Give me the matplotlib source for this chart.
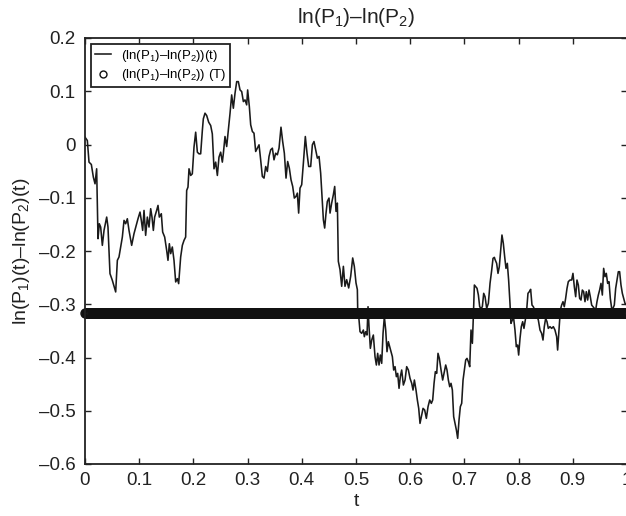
import matplotlib
matplotlib.use("Agg")
import matplotlib.pyplot as plt
import numpy as np

plt.rcParams['font.family'] = ['Liberation Sans', 'DejaVu Sans']
plt.rcParams['mathtext.fontset'] = 'custom'
plt.rcParams['mathtext.rm'] = 'Liberation Sans'
plt.rcParams['mathtext.default'] = 'regular'

# path of ln(P1)-ln(P2), in four stretches
t_a = [0.0, 0.0043, 0.0074, 0.0117, 0.0154, 0.0185, 0.0215, 0.0240, 0.0264, 0.0289,
       0.0320, 0.0351, 0.0400, 0.0424, 0.0461, 0.0504, 0.0566, 0.0597, 0.0627, 0.0658,
       0.0689, 0.0720, 0.0750, 0.0781, 0.0812, 0.0861, 0.0904, 0.0953, 0.0978, 0.1015,
       0.1039, 0.1064, 0.1089, 0.1119, 0.1150, 0.1181, 0.1212, 0.1236, 0.1261, 0.1285,
       0.1322, 0.1347, 0.1371, 0.1408, 0.1433, 0.1470, 0.1507, 0.1531, 0.1556, 0.1581,
       0.1611, 0.1642, 0.1673, 0.1704, 0.1728, 0.1765, 0.1796, 0.1827, 0.1857, 0.1876,
       0.1900, 0.1919, 0.1950, 0.1980, 0.2011, 0.2042, 0.2073, 0.2103, 0.2134, 0.2165,
       0.2183, 0.2214, 0.2245, 0.2282, 0.2319, 0.2349, 0.2380, 0.2411, 0.2442, 0.2472,
       0.2503, 0.2534, 0.2552]
v_a = [0.0138, 0.0075, -0.0331, -0.0375, -0.0613, -0.0738, -0.0456, -0.1769, -0.1488, -0.155,
       -0.1894, -0.1613, -0.1363, -0.155, -0.2425, -0.255, -0.2769, -0.2175, -0.2113, -0.1925,
       -0.1738, -0.1425, -0.1488, -0.1394, -0.1613, -0.1894, -0.1675, -0.1488, -0.1394, -0.1269,
       -0.1425, -0.1613, -0.1238, -0.1706, -0.1363, -0.155, -0.1206, -0.1363, -0.1613, -0.1363,
       -0.1238, -0.1144, -0.1363, -0.13, -0.1644, -0.1738, -0.1988, -0.2175, -0.1863, -0.205,
       -0.1925, -0.2175, -0.2581, -0.2519, -0.2613, -0.2113, -0.1894, -0.18, -0.1738, -0.0863,
       -0.08, -0.0456, -0.0581, -0.055, -0.005, 0.0231, -0.0144, -0.0175, -0.0175, 0.0263,
       0.0481, 0.0588, 0.0544, 0.0419, 0.0356, 0.02, -0.0456, -0.0331, -0.0581, -0.0238,
       -0.0144, -0.0331, -0.0175]

t_b = [0.2583, 0.2614, 0.2645, 0.2676, 0.2706, 0.2737, 0.2768, 0.2799, 0.2829, 0.2860,
       0.2891, 0.2922, 0.2952, 0.2983, 0.3001, 0.3032, 0.3057, 0.3088, 0.3118, 0.3149,
       0.3180, 0.3211, 0.3241, 0.3272, 0.3303, 0.3334, 0.3364, 0.3395, 0.3426, 0.3457,
       0.3487, 0.3518, 0.3549, 0.3580, 0.3616, 0.3647, 0.3678, 0.3709, 0.3739, 0.3770,
       0.3801, 0.3832, 0.3862, 0.3893, 0.3918, 0.3942, 0.3967, 0.3998, 0.4029, 0.4065,
       0.4096, 0.4127, 0.4164, 0.4195, 0.4225, 0.4256, 0.4287, 0.4318, 0.4348, 0.4373,
       0.4398, 0.4422, 0.4447, 0.4471, 0.4502, 0.4521, 0.4551, 0.4582, 0.4607, 0.4631,
       0.4656, 0.4674, 0.4705, 0.4736, 0.4767, 0.4797, 0.4828, 0.4865, 0.4902, 0.4939,
       0.4969, 0.5000, 0.5025]
v_b = [0.015, -0.0038, 0.0275, 0.0588, 0.0931, 0.0681, 0.0963, 0.1181, 0.1181, 0.1025,
       0.0994, 0.0806, 0.0838, 0.0744, 0.1025, 0.0713, 0.0369, 0.0244, 0.0213, -0.0131,
       -0.0069, -0.0006, -0.0288, -0.06, -0.0631, -0.0413, -0.0506, -0.0225, -0.01, -0.0069,
       -0.0288, -0.0163, -0.0194, -0.0069, 0.0325, 0.0056, -0.0163, -0.0631, -0.0319, -0.0444,
       -0.0663, -0.0788, -0.1006, -0.0975, -0.0913, -0.1288, -0.0819, -0.0756, -0.035, 0.015,
       -0.0163, -0.0413, -0.0413, -0.0006, 0.0056, -0.01, -0.0256, -0.0225, -0.0538, -0.0975,
       -0.1413, -0.1569, -0.1288, -0.1069, -0.1006, -0.1288, -0.11, -0.0944, -0.0788, -0.1256,
       -0.11, -0.2194, -0.235, -0.2663, -0.2288, -0.2663, -0.2538, -0.2694, -0.2475, -0.2131,
       -0.2288, -0.26, -0.2725]

t_c = [0.5031, 0.5056, 0.5074, 0.5105, 0.5136, 0.5154, 0.5179, 0.5203, 0.5222, 0.5240,
       0.5265, 0.5290, 0.5320, 0.5351, 0.5376, 0.5400, 0.5425, 0.5449, 0.5474, 0.5499,
       0.5523, 0.5548, 0.5572, 0.5597, 0.5622, 0.5646, 0.5671, 0.5695, 0.5720, 0.5745,
       0.5769, 0.5794, 0.5818, 0.5843, 0.5874, 0.5905, 0.5935, 0.5966, 0.5997, 0.6028,
       0.6052, 0.6077, 0.6107, 0.6132, 0.6157, 0.6181, 0.6206, 0.6237, 0.6267, 0.6298,
       0.6329, 0.6360, 0.6390, 0.6415, 0.6440, 0.6464, 0.6489, 0.6513, 0.6538, 0.6569,
       0.6599, 0.6630, 0.6655, 0.6679, 0.6704, 0.6729, 0.6753, 0.6778, 0.6802, 0.6827,
       0.6852, 0.6876, 0.6901, 0.6925, 0.6950, 0.6975, 0.6999, 0.7024, 0.7048, 0.7073,
       0.7098, 0.7122, 0.7147, 0.7165, 0.7184, 0.7208, 0.7233, 0.7258, 0.7282, 0.7307,
       0.7331, 0.7356, 0.7381, 0.7411, 0.7442, 0.7473, 0.7504, 0.7528, 0.7553]
v_c = [-0.3077, -0.3296, -0.3515, -0.3546, -0.3484, -0.3609, -0.3515, -0.3578, -0.3046, -0.3421,
       -0.3828, -0.3672, -0.3578, -0.3985, -0.4141, -0.3922, -0.4141, -0.3953, -0.411, -0.3546,
       -0.3233, -0.3484, -0.3891, -0.3703, -0.3797, -0.3891, -0.3985, -0.4235, -0.4172, -0.436,
       -0.4298, -0.4579, -0.436, -0.4235, -0.4517, -0.4423, -0.4172, -0.4235, -0.4392, -0.4485,
       -0.4611, -0.4423, -0.4611, -0.4798, -0.4955, -0.5237, -0.5111, -0.4955, -0.4986, -0.5143,
       -0.4924, -0.4798, -0.4861, -0.4798, -0.4485, -0.4266, -0.4298, -0.3922, -0.4016, -0.4235,
       -0.4423, -0.4266, -0.4141, -0.4235, -0.4423, -0.4548, -0.4485, -0.4611, -0.5111, -0.5237,
       -0.5362, -0.5518, -0.5174, -0.4924, -0.4861, -0.4423, -0.4235, -0.4047, -0.4016, -0.4079,
       -0.4172, -0.3484, -0.3734, -0.3233, -0.2639, -0.267, -0.2701, -0.2827, -0.3046, -0.3077,
       -0.3046, -0.2795, -0.2858, -0.3077, -0.2983, -0.2607, -0.2357, -0.2138, -0.2119]

t_d = [0.7564, 0.7595, 0.7620, 0.7644, 0.7669, 0.7693, 0.7718, 0.7743, 0.7767, 0.7792,
       0.7816, 0.7841, 0.7859, 0.7884, 0.7909, 0.7933, 0.7958, 0.7982, 0.8001, 0.8026,
       0.8050, 0.8075, 0.8099, 0.8124, 0.8149, 0.8173, 0.8198, 0.8222, 0.8247, 0.8272,
       0.8296, 0.8333, 0.8364, 0.8395, 0.8425, 0.8450, 0.8474, 0.8499, 0.8524, 0.8548,
       0.8579, 0.8610, 0.8641, 0.8671, 0.8702, 0.8720, 0.8745, 0.8770, 0.8794, 0.8819,
       0.8843, 0.8868, 0.8893, 0.8917, 0.8948, 0.8979, 0.9003, 0.9028, 0.9053, 0.9077,
       0.9102, 0.9126, 0.9151, 0.9176, 0.9200, 0.9225, 0.9249, 0.9274, 0.9299, 0.9323,
       0.9348, 0.9372, 0.9397, 0.9422, 0.9446, 0.9471, 0.9495, 0.9520, 0.9545, 0.9569,
       0.9594, 0.9618, 0.9643, 0.9668, 0.9692, 0.9717, 0.9741, 0.9766, 0.9791, 0.9815,
       0.9840, 0.9864, 0.9889, 0.9914, 0.9938, 0.9963, 1.0]
v_d = [-0.2157, -0.2232, -0.242, -0.2295, -0.1982, -0.17, -0.1856, -0.2107, -0.2326, -0.2232,
       -0.2545, -0.2983, -0.3359, -0.3296, -0.3265, -0.3484, -0.3797, -0.3766, -0.3954, -0.3641,
       -0.3421, -0.3328, -0.3453, -0.3296, -0.3108, -0.2795, -0.2764, -0.272, -0.3015, -0.3046,
       -0.3108, -0.3202, -0.3296, -0.3484, -0.3547, -0.3672, -0.3421, -0.3265, -0.3328, -0.3453,
       -0.3421, -0.3453, -0.3421, -0.3484, -0.3609, -0.386, -0.3484, -0.3108, -0.3015, -0.2952,
       -0.3046, -0.2889, -0.2702, -0.2576, -0.2545, -0.2545, -0.242, -0.267, -0.2858, -0.2545,
       -0.2639, -0.2889, -0.2921, -0.2733, -0.2764, -0.2952, -0.2764, -0.2921, -0.2733, -0.2858,
       -0.3015, -0.3046, -0.3077, -0.3108, -0.2952, -0.2827, -0.2733, -0.2608, -0.2827, -0.2326,
       -0.2482, -0.242, -0.2608, -0.2576, -0.2889, -0.3077, -0.3077, -0.3015, -0.2702, -0.2545,
       -0.2389, -0.2389, -0.2639, -0.2795, -0.2889, -0.2983, -0.302]

T_value = -0.316   # ln(P1)-ln(P2) at time T, drawn as a row of circles
n_steps = 1000     # time steps of the simulation grid the circles sit on

xtick_vals = [0, 0.1, 0.2, 0.3, 0.4, 0.5, 0.6, 0.7, 0.8, 0.9, 1.0]
xtick_labels = ['0', '0.1', '0.2', '0.3', '0.4', '0.5', '0.6', '0.7', '0.8', '0.9', '1']
ytick_vals = [0.2, 0.1, 0.0, -0.1, -0.2, -0.3, -0.4, -0.5, -0.6]
ytick_labels = ['0.2', '0.1', '0', '\u20130.1', '\u20130.2', '\u20130.3', '\u20130.4', '\u20130.5', '\u20130.6']

t = np.array(t_a + t_b + t_c + t_d)
v = np.array(v_a + v_b + v_c + v_d)
t_grid = np.linspace(0, 1, n_steps + 1)

fig = plt.figure(figsize=(6.26, 5.16), dpi=100)
ax = fig.add_axes([85 / 626, 52 / 516, 542 / 626, 426 / 516])

ax.plot(t, v, color='#1a1a1a', lw=1.15, label='(ln(P$_1$)\u2013ln(P$_2$))(t)')
ax.plot(t_grid, np.full_like(t_grid, T_value), ls='none', marker='o', ms=6.5, mfc='none',
        mec='#111111', mew=1.0, clip_on=False, label='(ln(P$_1$)\u2013ln(P$_2$)) (T)')

ax.set_xlim(0, 1)
ax.set_ylim(-0.6, 0.2)
ax.set_xticks(xtick_vals)
ax.set_xticklabels(xtick_labels)
ax.set_yticks(ytick_vals)
ax.set_yticklabels(ytick_labels)
ax.tick_params(direction='in', top=True, right=True, length=4, width=1,
               labelsize=13.5, color='#222222', labelcolor='#222222')
ax.tick_params(axis='x', pad=6)
ax.tick_params(axis='y', pad=7)
for s in ax.spines.values():
    s.set_linewidth(1.3)
    s.set_color('#222222')

ax.set_title('ln(P$_1$)\u2013ln(P$_2$)', fontsize=15, color='#222222', pad=11)
ax.set_xlabel('t', fontsize=14, color='#222222', labelpad=3)
ax.set_ylabel('ln(P$_1$)(t)\u2013ln(P$_2$)(t)', fontsize=14, color='#222222', labelpad=5)

leg = ax.legend(loc='upper left', fontsize=9.5, numpoints=1, fancybox=False,
                framealpha=1, edgecolor='#222222', handlelength=1.2,
                handletextpad=0.8, labelspacing=0.25, borderpad=0.3,
                borderaxespad=0.45)
leg.get_frame().set_linewidth(1.3)
leg.legend_handles[1].set_markersize(5)

fig.savefig('out.png', dpi=100)
